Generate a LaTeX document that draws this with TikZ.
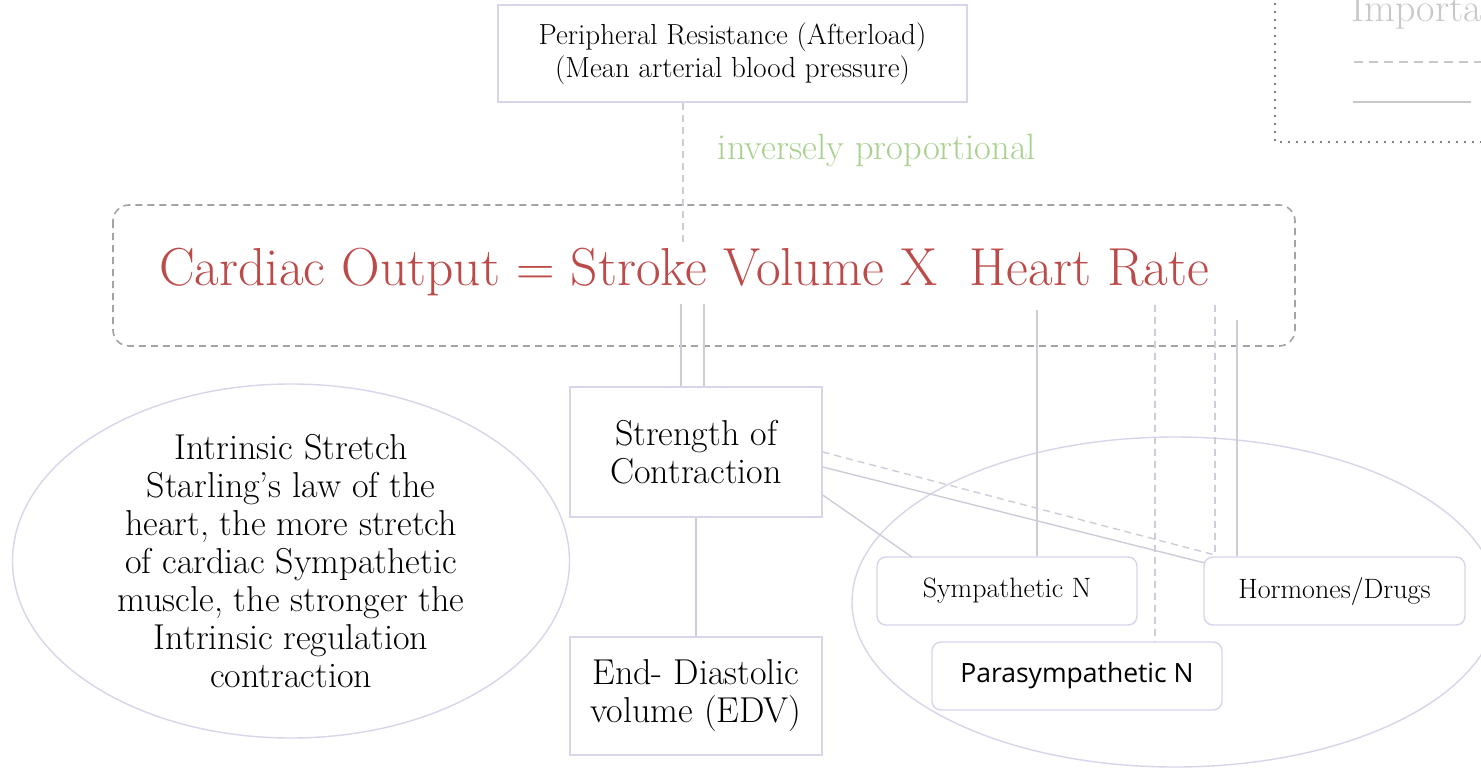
\documentclass[tikz,border=0pt]{standalone}
\usepackage{fontspec}
\newfontfamily\sansfont{Open Sans}
\usetikzlibrary{shapes.geometric}
\definecolor{boxline}{HTML}{D8D4EA}
\definecolor{linkline}{HTML}{CFCCD9}
\definecolor{eqred}{HTML}{BC4A48}
\definecolor{softgreen}{HTML}{A9D08E}
\definecolor{framegray}{HTML}{A3A3A3}
\definecolor{legendgray}{HTML}{C8C8C8}
\tikzset{
  sqbox/.style={draw=boxline, line width=1.4pt, fill=white, rectangle, align=center, inner sep=0pt},
  rbox/.style={draw=boxline, line width=1.4pt, fill=white, rectangle, rounded corners=9pt, align=center, inner sep=0pt},
  oval/.style={draw=boxline, line width=1.4pt, ellipse, inner sep=0pt},
  link/.style={draw=linkline, line width=1.4pt},
  dlink/.style={draw=linkline, line width=1.4pt, dash pattern=on 7pt off 5pt},
}
\begin{document}
\begin{tikzpicture}[x=1pt,y=-1pt]
\clip (0,0) rectangle (1481,768);
\fill[white] (0,0) rectangle (1481,768);

% legend frame
\draw[black, line width=1.6pt, line cap=round, dash pattern=on 0pt off 8pt] (1275,-4) -- (1275,142) -- (1490,142);
\node[anchor=base west, text=legendgray, font=\fontsize{40}{46}\selectfont, inner sep=0pt] (legtitle) at (1351,22) {Importa};
\coordinate (lda) at (1354,62);
\coordinate (ldb) at (1490,62);
\coordinate (lsa) at (1353,102);
\coordinate (lsb) at (1471,102);
\draw[legendgray, line width=1.6pt, dash pattern=on 9pt off 6pt] (lda) -- (ldb);
\draw[legendgray, line width=1.6pt] (lsa) -- (lsb);

% afterload box and its label
\node[sqbox, minimum width=469pt, minimum height=97pt, font=\fontsize{29}{33}\selectfont] (after) at (732.5,53.5)
  {Peripheral Resistance (Afterload)\\ (Mean arterial blood pressure)};
\node[text=softgreen, font=\fontsize{36.5}{40}\selectfont, inner sep=0pt] (inv) at (877,151) {inversely proportional};

% equation frame
\draw[framegray, line width=1.6pt, dash pattern=on 7pt off 5pt, rounded corners=16pt] (113,205) rectangle (1295,346);
\node[text=eqred, font=\fontsize{53.5}{60}\selectfont, inner sep=0pt] (eq) at (684,272)
  {Cardiac Output = Stroke Volume X\ \ Heart Rate};

\coordinate (eqtop) at (683,242);
\coordinate (sa) at (681,304);
\coordinate (sb) at (704,304);
\coordinate (sy) at (1037,310);
\coordinate (pa) at (1155,305);
\coordinate (hd) at (1215,305);
\coordinate (hs) at (1237,320);
\coordinate (hcorner) at (1215,555);
\coordinate (hleft) at (1205,563);

% nodes
\node[sqbox, minimum width=252pt, minimum height=130pt, font=\fontsize{36}{38}\selectfont] (str) at (696,452)
  {Strength of\\ Contraction};
\node[sqbox, minimum width=252pt, minimum height=118pt, font=\fontsize{36}{38}\selectfont] (edv) at (696,696)
  {End- Diastolic\\ volume (EDV)};
\node[oval, minimum width=557pt, minimum height=354pt] (stretch) at (291,561) {};
\node[align=center, inner sep=0pt, font=\fontsize{36}{38}\selectfont] (stretchtext) at (291,561)
  {Intrinsic Stretch\\ Starling’s law of the\\ heart, the more stretch\\ of cardiac Sympathetic\\ muscle, the stronger the\\ Intrinsic regulation\\ contraction};
\node[oval, minimum width=646pt, minimum height=330pt] (ext) at (1175,602) {};
\node[rbox, minimum width=260pt, minimum height=68pt, font=\fontsize{28}{30}\selectfont] (sym) at (1007,591) {\raisebox{-3pt}{Sympathetic N}};
\node[rbox, minimum width=261pt, minimum height=68pt, font=\fontsize{28}{30}\selectfont] (hor) at (1334.5,591) {\raisebox{-3pt}{Hormones/Drugs}};
\node[rbox, minimum width=290pt, minimum height=68pt, font=\sansfont\fontsize{26.5}{30}\selectfont] (para) at (1077,676) {\raisebox{-2pt}{Parasympathetic N}};

% connectors
\draw[dlink] (after.south -| eqtop) -- (eqtop);
\draw[link] (sa) -- (sa |- str.north);
\draw[link] (sb) -- (sb |- str.north);
\draw[link] (str.south) -- (edv.north);
\draw[link] (sy) -- (sy |- sym.north);
\draw[dlink] (pa) -- (pa |- para.north);
\draw[dlink] (hd) -- (hcorner);
\draw[link] (hs) -- (hs |- hor.north);
\draw[dlink] (str.east) -- (hcorner);
\draw[link] ([yshift=-15pt]str.east) -- (hleft);
\draw[link] ([yshift=-43pt]str.east) -- (912,557);
\end{tikzpicture}
\end{document}
